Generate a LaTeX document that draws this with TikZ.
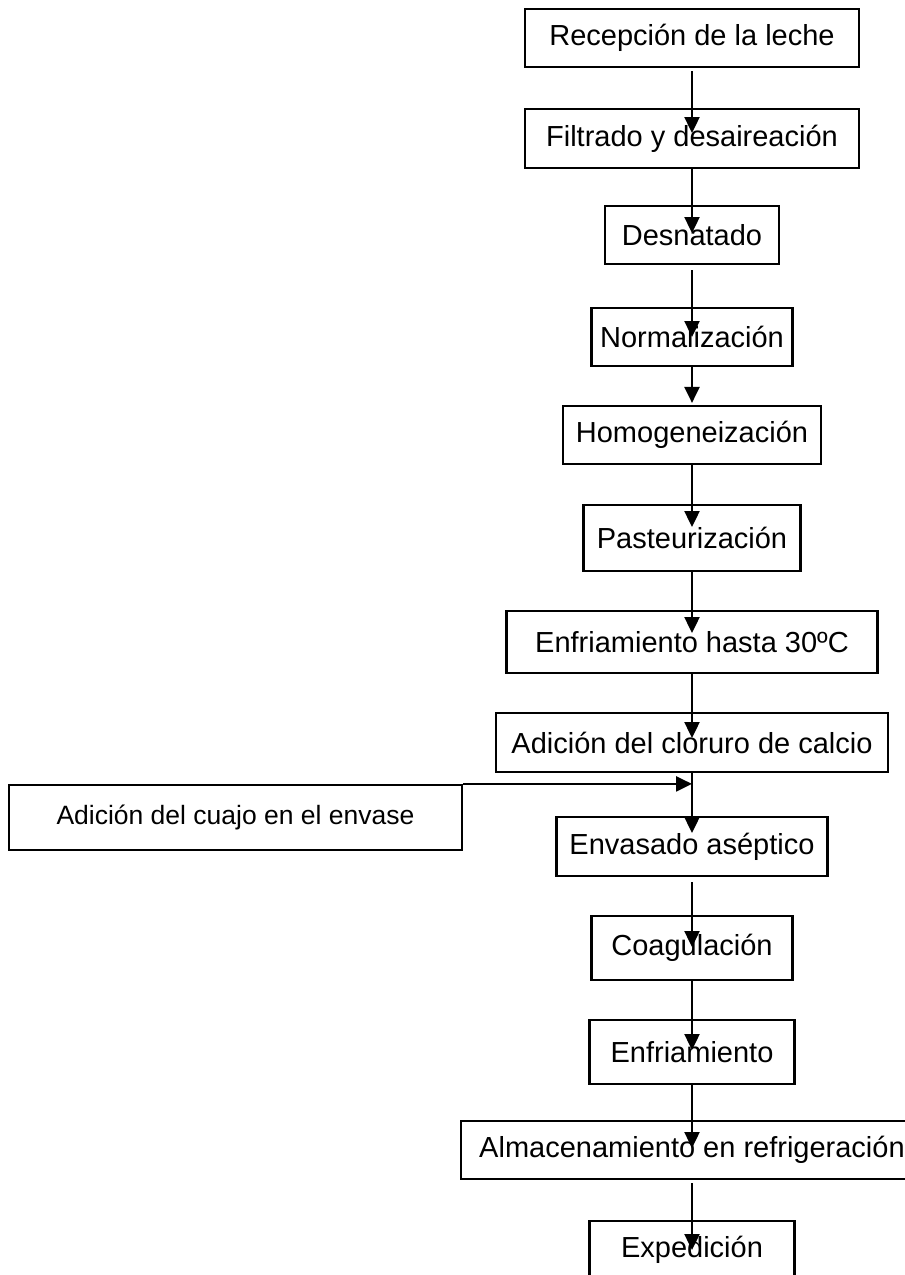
\documentclass[tikz,border=0pt]{standalone}
\usepackage{fontspec}
\setmainfont{Liberation Sans}
\usetikzlibrary{arrows.meta}
\newcommand{\qFlujoTexto}{\fontsize{29}{34}\selectfont}
\newcommand{\qFlujoTextoLado}{\fontsize{26.5}{31}\selectfont}

\begin{document}
\begin{tikzpicture}[x=1pt,y=-1pt,
  paso/.style={draw=black, line width=2.2pt, inner sep=0pt, font=\qFlujoTexto, align=center},
  flecha/.style={draw=black, line width=2.4pt, -{Triangle[length=16pt,width=15pt]}}]
\useasboundingbox (0,0) rectangle (905,1275);
\node[paso, minimum width=334pt, minimum height=58pt] (recepcion) at (692,38) {Recepción de la leche};
\node[paso, minimum width=334pt, minimum height=59pt] (filtrado) at (692,138.5) {Filtrado y desaireación};
\node[paso, minimum width=174pt, minimum height=58pt] (desnatado) at (692,235) {Desnatado};
\node[paso, minimum width=201pt, minimum height=58pt] (normalizacion) at (692,337) {Normalización};
\node[paso, minimum width=258pt, minimum height=58pt] (homogeneizacion) at (692,435) {Homogeneización};
\node[paso, minimum width=217pt, minimum height=66pt] (pasteurizacion) at (692,538) {Pasteurización};
\node[paso, minimum width=371pt, minimum height=62pt] (enfriamiento30) at (692,642) {Enfriamiento hasta 30ºC};
\node[paso, minimum width=392pt, minimum height=59pt] (cloruro) at (692,742.5) {Adición del cloruro de calcio};
\node[paso, minimum width=453pt, minimum height=65pt, font=\qFlujoTextoLado] (cuajo) at (235.5,817.5) {Adición del cuajo en el envase};
\node[paso, minimum width=271pt, minimum height=59pt] (envasado) at (692,846.5) {Envasado aséptico};
\node[paso, minimum width=201pt, minimum height=64pt] (coagulacion) at (692,948) {Coagulación};
\node[paso, minimum width=205pt, minimum height=64pt] (enfriamiento) at (692,1052) {Enfriamiento};
\node[paso, minimum width=462pt, minimum height=58pt] (almacenamiento) at (692,1150) {Almacenamiento en refrigeración};
\node[paso, minimum width=205pt, minimum height=58pt] (expedicion) at (692,1250) {Expedición};
% flechas del proceso
\draw[flecha] ([yshift=-3pt]recepcion.south) -- ([yshift=5.5pt]filtrado.center);
\draw[flecha] (filtrado.south) -- ([yshift=2pt]desnatado.center);
\draw[flecha] ([yshift=-5pt]desnatado.south) -- (normalizacion.center);
\draw[flecha] (normalizacion.south) -- ([yshift=2pt]homogeneizacion.north);
\draw[flecha] (homogeneizacion.south) -- ([yshift=11pt]pasteurizacion.center);
\draw[flecha] (pasteurizacion.south) -- ([yshift=9pt]enfriamiento30.center);
\draw[flecha] (enfriamiento30.south) -- ([yshift=4.5pt]cloruro.center);
\draw[flecha] (cloruro.south) -- ([yshift=13.5pt]envasado.center);
\draw[flecha] (cuajo.north east) -- (cuajo.north east -| envasado.center);
\draw[flecha] ([yshift=-5pt]envasado.south) -- ([yshift=1pt]coagulacion.center);
\draw[flecha] (coagulacion.south) -- ([yshift=2pt]enfriamiento.center);
\draw[flecha] (enfriamiento.south) -- ([yshift=2pt]almacenamiento.center);
\draw[flecha] ([yshift=-3pt]almacenamiento.south) -- (expedicion.center);
\end{tikzpicture}
\end{document}
